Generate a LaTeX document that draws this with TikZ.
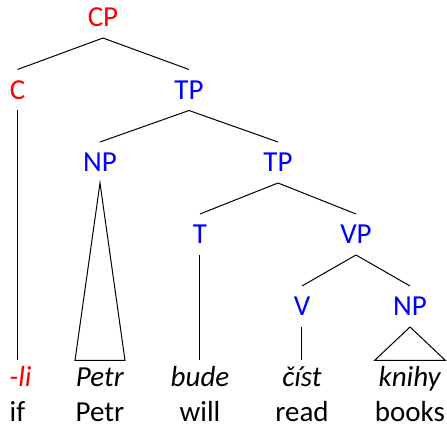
\documentclass[tikz,border=0pt]{standalone}
\usepackage{fontspec}
\setmainfont{Carlito}
\usepackage{xcolor}
\tikzset{
  cat/.style={inner sep=0pt, minimum height=20pt},
  word/.style={inner sep=0pt, text height=13pt, anchor=base},
}
\newcommand\ital[1]{\textit{#1}}

\begin{document}
\begin{tikzpicture}[x=0.5pt, y=-0.5pt, line width=0.5pt, font=\fontsize{14.5}{17}\selectfont]
  \useasboundingbox (0,0) rectangle (447,427);
  % categories
  \node[cat, red] (cp) at (103,17.5) {CP};
  \node[cat, red] (c) at (17.5,90) {C};
  \node[cat, blue] (tp1) at (189,90) {TP};
  \node[cat, blue] (np1) at (100,162.5) {NP};
  \node[cat, blue] (tp2) at (278,162.5) {TP};
  \node[cat, blue] (t) at (200,234.5) {T};
  \node[cat, blue] (vp) at (356,234.5) {VP};
  \node[cat, blue] (v) at (302,306.5) {V};
  \node[cat, blue] (np2) at (410,306.5) {NP};
  % words: 387
  \node[word, red] (li) at (20.5,387) {\ital{-li}};
  \node[word] (petr) at (100,387) {\ital{Petr}};
  \node[word] (bude) at (200,387) {\ital{bude}};
  \node[word] (cist) at (302,387) {\ital{číst}};
  \node[word] (knihy) at (410,387) {\ital{knihy}};
  % glosses: 422
  \node[word] (if) at (17.5,422) {if};
  \node[word] (petrgl) at (100,422) {Petr};
  \node[word] (will) at (200,422) {will};
  \node[word] (read) at (302,422) {read};
  \node[word] (books) at (410,422) {books};
  % branches
  \draw (cp.south) -- (c.north);
  \draw (cp.south) -- (tp1.north);
  \draw (tp1.south) -- (np1.north);
  \draw (tp1.south) -- (tp2.north);
  \draw (tp2.south) -- (t.north);
  \draw (tp2.south) -- (vp.north);
  \draw (vp.south) -- (v.north);
  \draw (vp.south) -- (np2.north);
  % leaves
  \draw (c.south) -- (c.south |- li.north);
  \draw (t.south) -- (bude.north);
  \draw (v.south) -- (cist.north);
  \draw (np1.south) -- ([xshift=-12.5pt]petr.north) -- ([xshift=12.5pt]petr.north) -- cycle;
  \draw (np2.south) -- ([xshift=-17.75pt]knihy.north) -- ([xshift=17.75pt]knihy.north) -- cycle;
\end{tikzpicture}
\end{document}
